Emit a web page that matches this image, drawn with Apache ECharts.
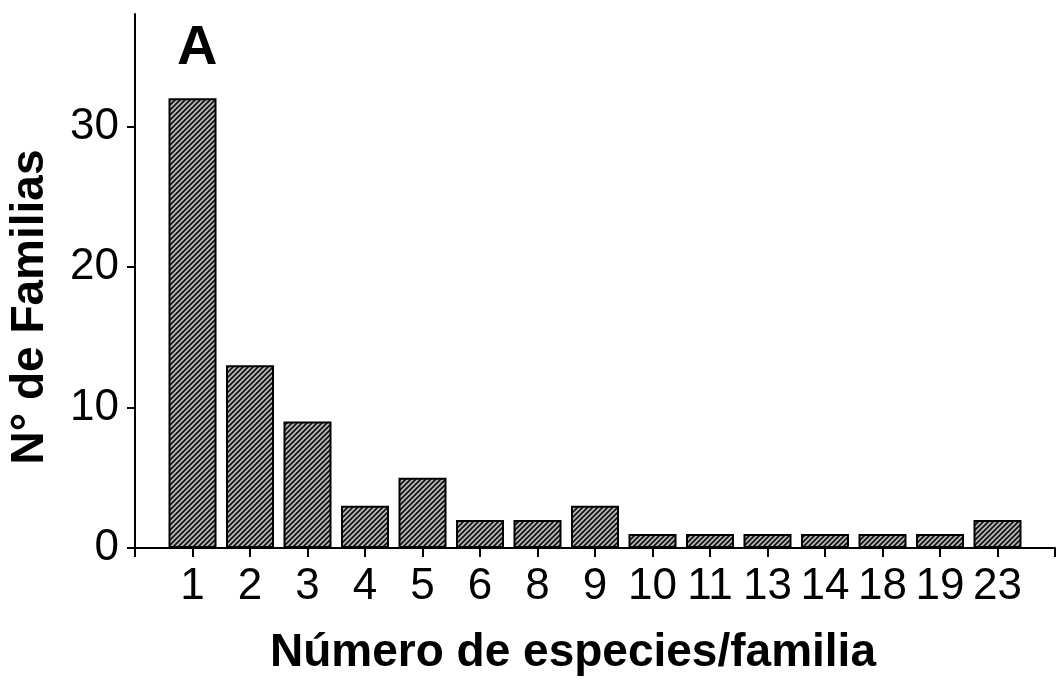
<!DOCTYPE html>
<html>
<head>
<meta charset="utf-8">
<script src="https://cdn.jsdelivr.net/npm/echarts@6/dist/echarts.min.js"></script>
<style>
  html, body { margin: 0; padding: 0; background: #fff; }
  #species-chart { width: 1060px; height: 687px; }
</style>
</head>
<body>
<div id="species-chart"></div>
<script>
// species per family (x categories) and number of families
var speciesPerFamily = ['1', '2', '3', '4', '5', '6', '8', '9', '10', '11', '13', '14', '18', '19', '23'];
var familyCounts = [32, 13, 9, 3, 5, 2, 2, 3, 1, 1, 1, 1, 1, 1, 2];
var yTicks = [0, 10, 20, 30];

function hatchPattern() {
    var c = document.createElement('canvas');
    c.width = 5;
    c.height = 5;
    var ctx = c.getContext('2d');
    ctx.fillStyle = '#b8b8b8';
    ctx.fillRect(0, 0, 5, 5);
    ctx.strokeStyle = '#111';
    ctx.lineWidth = 1.7;
    ctx.beginPath();
    ctx.moveTo(-1, 6); ctx.lineTo(6, -1);
    ctx.moveTo(-1, 1); ctx.lineTo(1, -1);
    ctx.moveTo(4, 6); ctx.lineTo(6, 4);
    ctx.stroke();
    return c;
}

function speciesChart() {
    var chart = echarts.init(document.getElementById('species-chart'));
    var font = "'Liberation Sans', Arial, sans-serif";

    var option = {
        animation: false,
        grid: { left: 135, right: 5, top: 14, bottom: 139, outerBoundsMode: 'none' },
        graphic: [
            {
                type: 'text',
                left: 177,
                top: 21,
                style: { text: 'A', font: 'bold 56px ' + font, fill: '#000' }
            },
            {
                // x axis title
                type: 'text',
                x: 573,
                y: 653,
                style: { text: 'Número de especies/familia', font: 'bold 46px ' + font, fill: '#000', align: 'center', verticalAlign: 'middle' }
            },
            {
                // y axis title
                type: 'text',
                x: 30,
                y: 307,
                rotation: Math.PI / 2,
                style: { text: 'N° de Familias', font: 'bold 46px ' + font, fill: '#000', align: 'center', verticalAlign: 'middle' }
            }
        ],
        xAxis: {
            type: 'value',
            min: 0,
            max: 16,
            interval: 1,
            axisLine: { lineStyle: { color: '#000', width: 2 } },
            axisTick: { length: 9, lineStyle: { color: '#000', width: 2 } },
            axisLabel: {
                margin: 17,
                fontFamily: font,
                fontSize: 44,
                color: '#000',
                formatter: function (v) { return speciesPerFamily[v - 1] || ''; }
            },
            splitLine: { show: false }
        },
        yAxis: {
            type: 'value',
            min: 0,
            max: 38,
            interval: 10,
            axisLine: { show: true, lineStyle: { color: '#000', width: 2 } },
            axisTick: { show: true, length: 8, customValues: yTicks, lineStyle: { color: '#000', width: 2 } },
            axisLabel: { margin: 16, customValues: yTicks, fontFamily: font, fontSize: 44, color: '#000' },
            splitLine: { show: false }
        },
        series: [
            {
                type: 'bar',
                barWidth: 48,
                data: familyCounts.map(function (v, i) { return [i + 1, v]; }),
                itemStyle: {
                    color: { image: hatchPattern(), repeat: 'repeat' },
                    borderColor: '#000',
                    borderWidth: 2
                }
            }
        ]
    };

    chart.setOption(option);
}

speciesChart();
</script>
</body>
</html>
